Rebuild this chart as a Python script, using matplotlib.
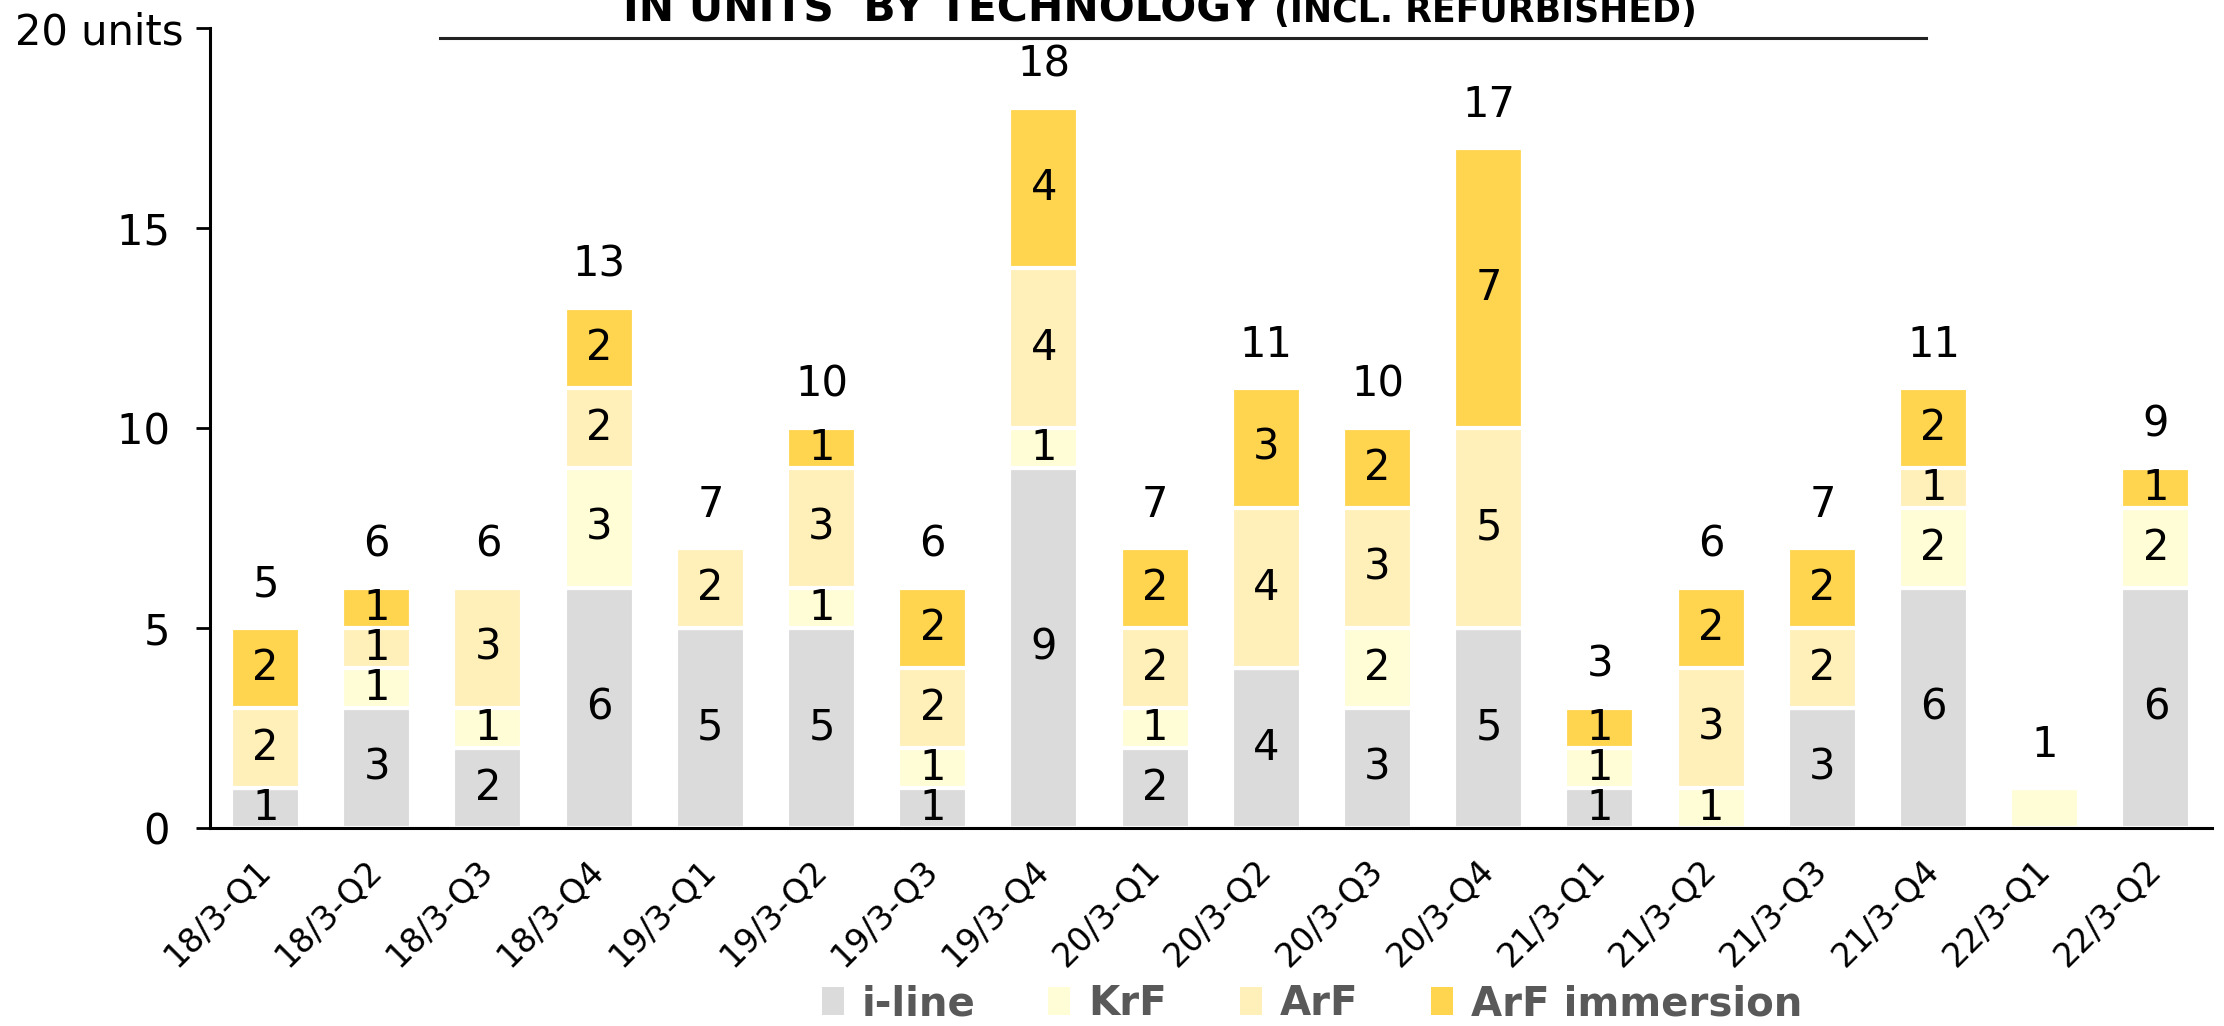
import matplotlib.pyplot as plt
from matplotlib.lines import Line2D

# 분기별 노광장치 판매 대수 (기술별)
quarters = ['18/3-Q1', '18/3-Q2', '18/3-Q3', '18/3-Q4',
            '19/3-Q1', '19/3-Q2', '19/3-Q3', '19/3-Q4',
            '20/3-Q1', '20/3-Q2', '20/3-Q3', '20/3-Q4',
            '21/3-Q1', '21/3-Q2', '21/3-Q3', '21/3-Q4',
            '22/3-Q1', '22/3-Q2']
iline = [1, 3, 2, 6, 5, 5, 1, 9, 2, 4, 3, 5, 1, 0, 3, 6, 0, 6]
krf = [0, 1, 1, 3, 0, 1, 1, 1, 1, 0, 2, 0, 1, 1, 0, 2, 1, 2]
arf = [2, 1, 3, 2, 2, 3, 2, 4, 2, 4, 3, 5, 0, 3, 2, 1, 0, 0]
arf_imm = [2, 1, 0, 2, 0, 1, 2, 4, 2, 3, 2, 7, 1, 2, 2, 2, 0, 1]
hide_inside = ['22/3-Q1']   # 막대 안 숫자가 없는 분기

names = ['i-line', 'KrF', 'ArF', 'ArF immersion']
colors = ['#DBDBDB', '#FFFDD6', '#FFEFB8', '#FFD54F']

plt.rcParams['font.family'] = 'DejaVu Sans'

fig = plt.figure(figsize=(22.24, 10.26), dpi=100)
ax = fig.add_axes([0.0944, 0.193, 0.9, 0.7797])

x = list(range(len(quarters)))
bottom = [0] * len(quarters)
for name, vals, col in zip(names, [iline, krf, arf, arf_imm], colors):
    ax.bar(x, vals, 0.62, bottom=bottom, color=col, edgecolor='white',
           linewidth=3, label=name)
    for i, v in enumerate(vals):
        if v > 0 and quarters[i] not in hide_inside:
            ax.text(i, bottom[i] + v / 2, str(v), ha='center', va='center',
                    fontsize=30, color='black')
    bottom = [b + v for b, v in zip(bottom, vals)]

# 합계
for i, t in enumerate(bottom):
    ax.annotate(str(t), (i, t), xytext=(0, 16), textcoords='offset points',
                ha='center', va='bottom', fontsize=30, color='black')

ax.set_xlim(-0.5, 17.5)
ax.set_ylim(0, 20)
ax.set_yticks([0, 5, 10, 15, 20])
ax.set_yticklabels(['0 ', '5 ', '10 ', '15 ', '20 units'], fontsize=30)
ax.set_xticks(x)
ax.set_xticklabels(quarters, rotation=45, ha='right', va='center',
                   rotation_mode='anchor', fontsize=24)
ax.tick_params(axis='x', length=0, pad=27)
ax.tick_params(axis='y', length=10, width=2, pad=9)

for s in ['top', 'right']:
    ax.spines[s].set_visible(False)
for s in ['left', 'bottom']:
    ax.spines[s].set_linewidth(2.2)

leg = fig.legend(loc='center', bbox_to_anchor=(0.59, 0.021), ncol=4,
                 frameon=False, handlelength=0.55, handleheight=0.7,
                 handletextpad=0.45, columnspacing=1.8,
                 prop={'weight': 'bold', 'size': 29})
for t in leg.get_texts():
    t.set_color('#595959')
for h in leg.legend_handles:
    h.set_linewidth(0)

# 제목 (위쪽이 잘려 있음)
fig.text(0.567, 1 - 22 / 1026, 'IN UNITS  BY TECHNOLOGY', ha='right', va='baseline',
         fontsize=30.5, fontweight='bold')
fig.text(0.573, 1 - 22 / 1026, '(INCL. REFURBISHED)', ha='left', va='baseline',
         fontsize=25, fontweight='bold')
fig.add_artist(Line2D([440 / 2224, 1926 / 2224], [1 - 38 / 1026, 1 - 38 / 1026],
                      transform=fig.transFigure, color='#222222', linewidth=2.2))

fig.savefig('out.png', dpi=100)
